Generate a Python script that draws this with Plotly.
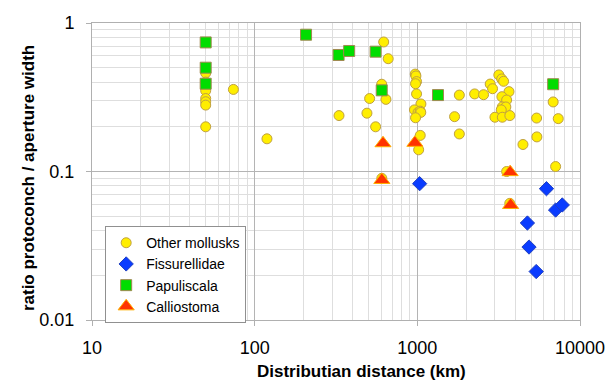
import plotly.graph_objects as go

# Other mollusks (yellow circles)
other_x = [50, 50, 50, 50, 50, 50, 50, 74, 119, 330, 490, 509, 554, 604, 621, 641, 662, 605,
           971, 980, 989, 975, 989, 1052, 960, 1010, 1040, 1050, 975, 1042, 1019,
           1812, 1694, 1812, 2250, 2553, 2805, 2900, 3170, 3300, 3390, 3660, 3310, 3540,
           3330, 3500, 3280, 3000, 3330, 3705, 5410, 5430, 4460, 7080, 7350, 6840, 3540, 3700]
other_y = [0.46, 0.40, 0.35, 0.31, 0.295, 0.28, 0.20, 0.357, 0.166, 0.238, 0.247, 0.31, 0.20, 0.387, 0.745, 0.306, 0.575, 0.09,
           0.453, 0.44, 0.403, 0.39, 0.333, 0.285, 0.26, 0.25, 0.255, 0.25, 0.23, 0.175, 0.14,
           0.327, 0.234, 0.179, 0.333, 0.329, 0.388, 0.361, 0.447, 0.42, 0.405, 0.345, 0.319, 0.303,
           0.272, 0.272, 0.26, 0.232, 0.232, 0.238, 0.229, 0.171, 0.152, 0.108, 0.227, 0.294, 0.10, 0.061]

# Fissurellidae (blue diamonds)
fiss_x = [1033, 6220, 7080, 7780, 4750, 4860, 5380]
fiss_y = [0.0828, 0.0766, 0.055, 0.0595, 0.045, 0.031, 0.0212]

# Papuliscala (green squares)
papu_x = [50, 50, 50, 207, 328, 381, 554, 604, 1340, 6840]
papu_y = [0.74, 0.50, 0.39, 0.834, 0.609, 0.648, 0.641, 0.352, 0.327, 0.387]

# Calliostoma (red triangles)
calli_x = [615, 966, 605, 3720, 3745]
calli_y = [0.155, 0.156, 0.0877, 0.099, 0.0595]

x_ticks = [10, 100, 1000, 10000]
x_ticktext = ["10", "100", "1000", "10000"]
y_ticks = [0.01, 0.1, 1]
y_ticktext = ["0.01", "0.1", "1"]

x_title = "Distributian distance (km)"
y_title = "ratio protoconch / aperture width"

FONT = "Arial, Liberation Sans, sans-serif"

fig = go.Figure()
fig.add_trace(go.Scatter(x=other_x, y=other_y, mode="markers", name="Other mollusks",
                         marker=dict(symbol="circle", size=10, color="#ffee00",
                                     line=dict(color="#c0a040", width=1))))
fig.add_trace(go.Scatter(x=fiss_x, y=fiss_y, mode="markers", name="Fissurellidae",
                         marker=dict(symbol="diamond", size=11, color="#0a3cff",
                                     line=dict(color="#2040c0", width=1))))
fig.add_trace(go.Scatter(x=papu_x, y=papu_y, mode="markers", name="Papuliscala",
                         marker=dict(symbol="square", size=11, color="#00dd00",
                                     line=dict(color="#a08850", width=1))))
fig.add_trace(go.Scatter(x=calli_x, y=calli_y, mode="markers", name="Calliostoma",
                         marker=dict(symbol="triangle-up", size=14, color="#ff3300",
                                     line=dict(color="#ffb000", width=1))))

axis_common = dict(
    showline=True, linecolor="#b0b0b0", linewidth=1, mirror=True,
    showgrid=True, gridcolor="#b4b4b4", gridwidth=1,
    ticks="outside", ticklen=5, tickcolor="#b0b0b0",
    tickfont=dict(family=FONT, size=18, color="#000"),
    zeroline=False, automargin=False,
    minor=dict(showgrid=True, gridcolor="#dedede", gridwidth=1, ticks="", dtick="D1"),
)

fig.update_xaxes(type="log", range=[1, 4], tickvals=x_ticks, ticktext=x_ticktext,
                 ticklabelstandoff=6, **axis_common)
fig.update_yaxes(type="log", range=[-2, 0], tickvals=y_ticks, ticktext=y_ticktext,
                 ticklabelstandoff=8, **axis_common)

fig.add_annotation(text="<b>" + x_title + "</b>", xref="paper", yref="paper",
                   x=0.553, y=-0.175, xanchor="center", yanchor="middle", showarrow=False,
                   font=dict(family=FONT, size=17, color="#000"))
fig.add_annotation(text="<b>" + y_title + "</b>", xref="paper", yref="paper",
                   x=-0.131, y=0.478, xanchor="center", yanchor="middle", showarrow=False,
                   textangle=-90, font=dict(family=FONT, size=17, color="#000"))

fig.update_layout(
    width=615, height=385,
    margin=dict(l=92, r=35, t=23, b=65),
    paper_bgcolor="white", plot_bgcolor="white",
    font=dict(family=FONT, color="#000"),
    showlegend=True,
    legend=dict(x=0.027, y=0.316, xanchor="left", yanchor="top",
                bgcolor="white", bordercolor="#909090", borderwidth=1,
                font=dict(family=FONT, size=14, color="#000"),
                itemwidth=30, tracegroupgap=0,
                traceorder="normal"),
)

fig.write_html("out.html", config={"displayModeBar": False},
               post_script="document.body.style.margin='0';document.body.style.overflow='hidden';")
